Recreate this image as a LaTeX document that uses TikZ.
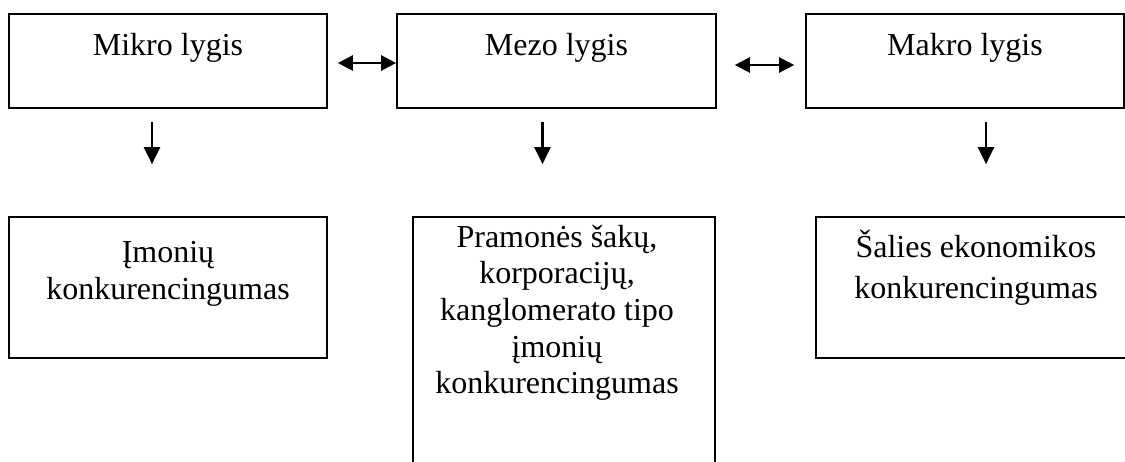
\documentclass[tikz,border=0pt]{standalone}
\usepackage{fontspec}
\setmainfont{Liberation Serif}
\usetikzlibrary{arrows.meta}
\begin{document}
\begin{tikzpicture}[x=1pt,y=-1pt,
  box/.style={draw, line width=1.7pt, inner sep=0pt},
  lbl/.style={anchor=base, inner sep=0pt, font=\fontsize{32}{37}\selectfont},
  link/.style={line width=2.4pt, -{Triangle[length=17pt,width=16pt]}},
  both/.style={line width=2.4pt, {Triangle[length=15pt,width=15pt]}-{Triangle[length=15pt,width=15pt]}}
]
\useasboundingbox (0,0) rectangle (1125,461);
\clip (0,0) rectangle (1125,461);

% level boxes
\node[box, minimum width=318pt, minimum height=94pt] (mikro) at (168,61) {};
\node[box, minimum width=319pt, minimum height=94pt] (mezo)  at (556.5,61) {};
\node[box, minimum width=318pt, minimum height=94pt] (makro) at (965,61) {};

% competitiveness boxes
\node[box, minimum width=318pt, minimum height=141pt] (imon)   at (168,287.5) {};
\node[box, minimum width=302pt, minimum height=300pt] (pram)   at (564,367) {};
\node[box, minimum width=318pt, minimum height=141pt] (salies) at (975,287.5) {};

% texts
\node[lbl] (tmikro) at (168,55) {Mikro lygis};
\node[lbl] (tmezo)  at (556.5,55) {Mezo lygis};
\node[lbl] (tmakro) at (965,55) {Makro lygis};
\node[lbl] (timon) at (168,262) {\begin{tabular}[t]{@{}c@{}}Įmonių\\konkurencingumas\end{tabular}};
\node[lbl, font=\fontsize{32}{36.7}\selectfont] (tpram) at (557,247)
  {\begin{tabular}[t]{@{}c@{}}Pramonės šakų,\\korporacijų,\\kanglomerato tipo\\įmonių\\konkurencingumas\end{tabular}};
\node[lbl, font=\fontsize{32}{41}\selectfont] (tsalies) at (976,257)
  {\begin{tabular}[t]{@{}c@{}}Šalies ekonomikos\\konkurencingumas\end{tabular}};

% connectors
\draw[both] ([xshift=10pt,yshift=-2pt]mikro.east) -- ([yshift=-2pt]mezo.west);
\draw[both] ([xshift=18pt,yshift=-4pt]mezo.east) -- ([xshift=-11pt,yshift=-4pt]makro.west);
\draw[link] ([xshift=-16pt,yshift=-13pt]mikro.south) -- ([xshift=-16pt,yshift=52pt]imon.north);
\draw[link] ([xshift=-14pt,yshift=-13pt]mezo.south) -- ([xshift=-21.5pt,yshift=52pt]pram.north);
\draw[link] ([xshift=21pt,yshift=-13pt]makro.south) -- ([xshift=11pt,yshift=52pt]salies.north);
\end{tikzpicture}
\end{document}
